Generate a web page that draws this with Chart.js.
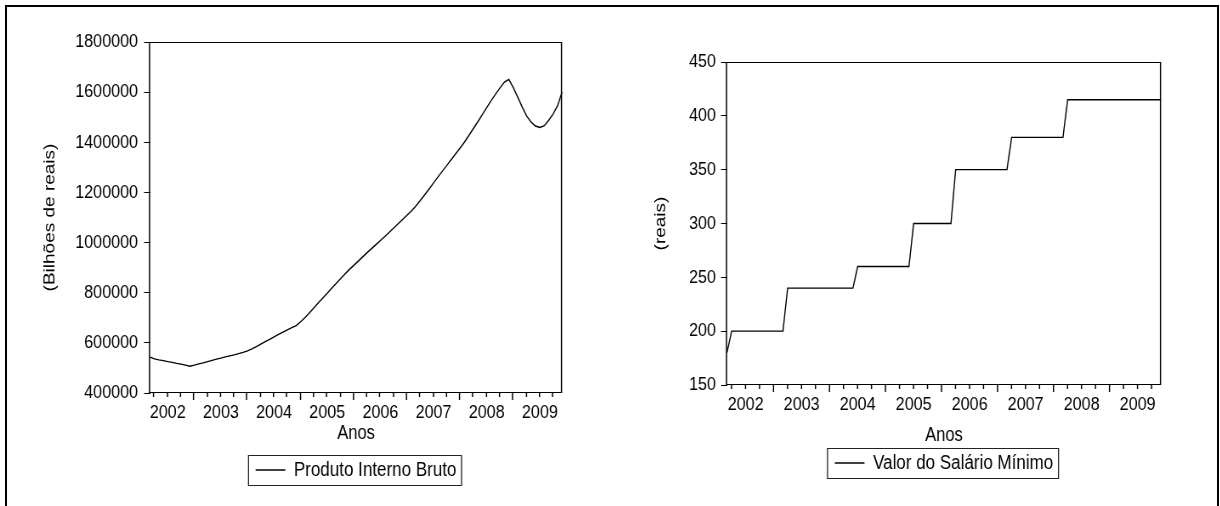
<!DOCTYPE html>
<html>
<head>
<meta charset="utf-8">
<script src="https://cdn.jsdelivr.net/npm/chart.js@4"></script>
<style>
  html, body { margin: 0; padding: 0; background: #fff; width: 1220px; height: 506px; overflow: hidden; }
  #frame { position: absolute; left: 5px; top: 5px; width: 1214px; height: 600px; box-sizing: border-box;
           border: 2px solid #000; border-bottom: none; }
  /* the original plot is a little squeezed sideways, so draw wide and compress */
  .wrap { position: absolute; top: 0; width: 718px; height: 506px; transform: scaleX(0.85); transform-origin: 0 0; }
  #wpib { left: 0; }
  #wsal { left: 610px; }
</style>
</head>
<body>
<div id="frame"></div>
<div class="wrap" id="wpib"><canvas id="pib" width="718" height="506"></canvas></div>
<div class="wrap" id="wsal"><canvas id="sal" width="718" height="506"></canvas></div>
<script>
// monthly observations, 2002M03 .. 2009M12
const months = [
  '2002M03','2002M04','2002M05','2002M06','2002M07','2002M08','2002M09','2002M10','2002M11','2002M12',
  '2003M01','2003M02','2003M03','2003M04','2003M05','2003M06','2003M07','2003M08','2003M09','2003M10','2003M11','2003M12',
  '2004M01','2004M02','2004M03','2004M04','2004M05','2004M06','2004M07','2004M08','2004M09','2004M10','2004M11','2004M12',
  '2005M01','2005M02','2005M03','2005M04','2005M05','2005M06','2005M07','2005M08','2005M09','2005M10','2005M11','2005M12',
  '2006M01','2006M02','2006M03','2006M04','2006M05','2006M06','2006M07','2006M08','2006M09','2006M10','2006M11','2006M12',
  '2007M01','2007M02','2007M03','2007M04','2007M05','2007M06','2007M07','2007M08','2007M09','2007M10','2007M11','2007M12',
  '2008M01','2008M02','2008M03','2008M04','2008M05','2008M06','2008M07','2008M08','2008M09','2008M10','2008M11','2008M12',
  '2009M01','2009M02','2009M03','2009M04','2009M05','2009M06','2009M07','2009M08','2009M09','2009M10','2009M11','2009M12'
];
const years = ['2002', '2003', '2004', '2005', '2006', '2007', '2008', '2009'];

const pibValues = [
  543000, 536000, 532000, 529000, 525000, 522000, 518000, 515000, 511000, 507000,
  511000, 516000, 520000, 525000, 530000, 535000, 539000, 544000, 548000, 552000, 557000, 562000,
  568000, 576000, 585000, 595000, 605000, 614000, 624000, 634000, 643000, 652000, 661000, 669000,
  684000, 701000, 720000, 740000, 760000, 779000, 798000, 818000, 837000, 856000, 875000, 893000,
  909000, 926000, 943000, 960000, 976000, 992000, 1008000, 1024000, 1041000, 1058000, 1075000, 1092000,
  1109000, 1126000, 1146000, 1168000, 1191000, 1214000, 1238000, 1262000, 1285000, 1308000, 1331000, 1354000,
  1377000, 1401000, 1428000, 1455000, 1482000, 1510000, 1538000, 1566000, 1592000, 1617000, 1640000, 1651000,
  1618000, 1580000, 1541000, 1505000, 1481000, 1465000, 1459000, 1466000, 1488000, 1513000, 1546000, 1600000
];

const salarioValues = [
  180, 200, 200, 200, 200, 200, 200, 200, 200, 200,
  200, 200, 200, 240, 240, 240, 240, 240, 240, 240, 240, 240,
  240, 240, 240, 240, 240, 240, 260, 260, 260, 260, 260, 260,
  260, 260, 260, 260, 260, 260, 300, 300, 300, 300, 300, 300,
  300, 300, 300, 350, 350, 350, 350, 350, 350, 350, 350, 350,
  350, 350, 350, 380, 380, 380, 380, 380, 380, 380, 380, 380,
  380, 380, 380, 415, 415, 415, 415, 415, 415, 415, 415, 415,
  415, 415, 415, 415, 415, 415, 415, 415, 415, 415, 415, 415
];

const pibAxis = [400000, 1800000, 200000];   // min, max, step
const salarioAxis = [150, 450, 50];

const K = 0.85;   // same as the scaleX in the css
const FONT = '"Liberation Sans", Arial, sans-serif';
Chart.defaults.font.family = FONT;
Chart.defaults.color = '#000';

// x on the canvas that lands in the middle of one screen pixel after the squeeze
const vx = px => (Math.round(px * K) - 0.5) / K;

// plot frame, quarter ticks with year labels between them, box around legend
const eviewsAxis = {
  id: 'eviewsAxis',
  afterDraw(chart) {
    const {ctx, chartArea: a} = chart;
    const x = chart.scales.x;
    const l = vx(a.left), r = vx(a.right);
    ctx.save();
    ctx.strokeStyle = '#000';

    ctx.lineWidth = 1;
    ctx.beginPath();
    ctx.moveTo(l, a.top + 0.5); ctx.lineTo(r, a.top + 0.5);
    ctx.moveTo(l, a.bottom - 0.5); ctx.lineTo(r, a.bottom - 0.5);
    ctx.stroke();

    ctx.lineWidth = 1.25 / K;
    ctx.beginPath();
    ctx.moveTo(l, a.top); ctx.lineTo(l, a.bottom);
    ctx.moveTo(r, a.top); ctx.lineTo(r, a.bottom);
    months.forEach((m, i) => {
      const mm = m.slice(5);
      if (mm === '01' || mm === '04' || mm === '07' || mm === '10') {
        const px = vx(x.getPixelForValue(i));
        ctx.moveTo(px, a.bottom);
        ctx.lineTo(px, a.bottom + (mm === '01' ? 7 : 4));
      }
    });
    ctx.stroke();

    ctx.font = '19px ' + FONT;
    ctx.fillStyle = '#000';
    ctx.textAlign = 'center';
    ctx.textBaseline = 'middle';
    years.forEach(y => {
      const i = months.indexOf(y + 'M07');
      ctx.fillText(y, x.getPixelForValue(i), a.bottom + 20);
    });

    const hb = chart.legend.legendHitBoxes[0];
    const cy = Math.round(hb.top + hb.height / 2);
    const bl = vx(hb.left - 8), br = vx(hb.left + hb.width + 7);
    ctx.strokeStyle = '#222';
    ctx.lineWidth = 1;
    ctx.beginPath();
    ctx.moveTo(bl, cy - 14.5); ctx.lineTo(br, cy - 14.5);
    ctx.moveTo(bl, cy + 15.5); ctx.lineTo(br, cy + 15.5);
    ctx.stroke();
    ctx.lineWidth = 1.1 / K;
    ctx.beginPath();
    ctx.moveTo(bl, cy - 15); ctx.lineTo(bl, cy + 16);
    ctx.moveTo(br, cy - 15); ctx.lineTo(br, cy + 16);
    ctx.stroke();
    ctx.restore();
  }
};

function makeChart(id, label, values, axis, yTitle, box) {
  return new Chart(document.getElementById(id), {
    type: 'line',
    data: {
      labels: months,
      datasets: [{
        label: label,
        data: values,
        borderColor: '#000',
        borderWidth: 1.4,
        pointRadius: 0,
        tension: 0,
        fill: false
      }]
    },
    options: {
      responsive: false,
      animation: false,
      devicePixelRatio: 1,
      layout: { padding: box.padding },
      plugins: {
        legend: {
          position: 'bottom',
          fullSize: false,
          labels: {
            usePointStyle: true,
            pointStyle: 'line',
            pointStyleWidth: 35,
            padding: box.legendPad,
            color: '#000',
            font: { size: 20 }
          }
        },
        tooltip: { enabled: false }
      },
      scales: {
        x: {
          type: 'category',
          offset: false,
          grid: { display: false },
          border: { display: false },
          ticks: { display: false },
          title: { display: true, text: 'Anos', font: { size: 19.5, lineHeight: 1 },
                   padding: { top: 0, bottom: box.xTitlePad } },
          afterFit: s => { s.height = box.xHeight; }
        },
        y: {
          min: axis[0],
          max: axis[1],
          ticks: { stepSize: axis[2], padding: box.yTickPad, font: { size: 19 }, callback: v => String(v) },
          grid: { drawOnChartArea: false, tickLength: 7, tickColor: '#000' },
          border: { display: false },
          title: { display: true, text: yTitle, font: { size: 19, lineHeight: 1 },
                   padding: { top: box.yTitlePad, bottom: 0 } },
          afterFit: s => { s.width = box.yWidth; }
        }
      }
    },
    plugins: [eviewsAxis]
  });
}

makeChart('pib', 'Produto Interno Bruto', pibValues, pibAxis, '(Bilhões de reais)', {
  padding: { left: 23.5, right: 56.8, top: 42, bottom: 16 },
  yWidth: 153, xHeight: 57, xTitlePad: 6.25, yTitlePad: 25.8, yTickPad: 7.1, legendPad: 10
});

makeChart('sal', 'Valor do Salário Mínimo', salarioValues, salarioAxis, '(reais)', {
  padding: { left: 23.5, right: 69.8, top: 62, bottom: 23 },
  yWidth: 114.1, xHeight: 60.25, xTitlePad: 0, yTitlePad: 27, yTickPad: 6, legendPad: 7.75
});
</script>
</body>
</html>
